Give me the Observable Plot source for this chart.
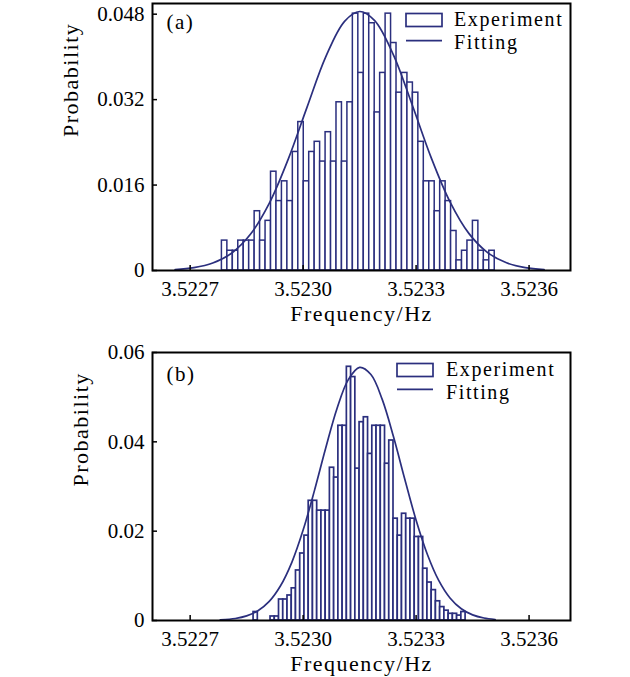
<!DOCTYPE html>
<html><head><meta charset="utf-8">
<script src="https://cdn.jsdelivr.net/npm/d3@7"></script>
<script src="https://cdn.jsdelivr.net/npm/@observablehq/plot@0.6"></script>
<style>body{margin:0;background:#fff} svg{display:block}</style>
</head><body><div id="chart"></div>
<script>
const navy = "#2b2f7e";
const xDomain = [3.5226, 3.52371];
const xTicks = [3.5227, 3.5230, 3.5233, 3.5236];

// Panel (a): histogram bins (50 equal-width bins) and probabilities
const binStartA = 3.5227843, binWidthA = 0.00001449;
const probA = [0.0056,0.0037,0.0037,0.0056,0.0056,0.0056,0.0111,0.0056,0.0093,0.0185,
               0.0130,0.0167,0.0130,0.0222,0.0278,0.0167,0.0222,0.0241,0.0204,0.0259,
               0.0204,0.0315,0.0204,0.0315,0.0481,0.0370,0.0481,0.0463,0.0296,0.0370,
               0.0481,0.0426,0.0333,0.0370,0.0352,0.0333,0.0241,0.0167,0.0167,0.0111,
               0.0167,0.0130,0.0074,0.0019,0.0037,0.0056,0.0093,0.0037,0.0019,0.0037];
const fitXA = [3.52266,3.52271,3.52276,3.52281,3.52286,3.52291,3.52296,3.52301,3.52306,3.52311,3.52315,
               3.52319,3.52324,3.52329,3.52334,3.52339,3.52344,3.52349,3.52354,3.52359,3.52364];
const fitYA = [0.00018,0.00053,0.00139,0.00324,0.00677,0.01256,0.02076,0.0305,0.0400,0.04666,0.0485,
               0.0468,0.04035,0.03094,0.02113,0.01285,0.00695,0.00335,0.00144,0.00055,0.00019];
const yTicksA = [0, 0.016, 0.032, 0.048];

// Panel (b)
const binStartB = 3.5228684, binWidthB = 0.00001126;
const probB = [0.0019,0,0,0,0.0009,0.0009,0.0047,0.0047,0.0056,0.0072,
               0.0112,0.0150,0.0190,0.0268,0.0268,0.0246,0.0246,0.0246,0.0342,0.0320,
               0.0436,0.0436,0.0568,0.0545,0.0340,0.0444,0.0455,0.0373,0.0436,0.0436,
               0.0436,0.0351,0.0403,0.0228,0.0190,0.0239,0.0228,0.0228,0.0187,0.0187,
               0.0116,0.0085,0.0068,0.0043,0.0030,0.0022,0.0015,0.0015,0.0011,0.0019];
const fitXB = [3.52278,3.52282,3.52285,3.52288,3.52291,3.52294,3.52297,3.52300,3.52303,3.52306,3.52309,3.52312,
               3.52315,3.52318,3.52321,3.52324,3.52327,3.52330,3.52333,3.52336,3.52339,3.52342,3.52345,3.52348,3.52351];
const fitYB = [0.00013,0.00045,0.00103,0.00218,0.00427,0.00777,0.01302,0.02024,0.02908,0.03861,0.04746,0.05392,
               0.05666,0.05506,0.0495,0.04113,0.03162,0.02245,0.01478,0.00898,0.00505,0.00263,0.00126,0.00056,0.00023];
const yTicksB = [0, 0.02, 0.04, 0.06];

const FONT = "'Liberation Serif', 'DejaVu Serif', serif";

function panel(o) {
  const bars = o.probs.map((p, i) => ({x1: o.start + i * o.width, x2: o.start + (i + 1) * o.width, p}));
  const fit = o.fitX.map((x, i) => ({x, y: o.fitY[i]}));
  const mL = 152, mR = 60;
  const fw = 630 - mL - mR, fh = o.height - o.marginTop - o.marginBottom;
  const svg = Plot.plot({
    width: 630, height: o.height,
    marginLeft: mL, marginRight: mR, marginTop: o.marginTop, marginBottom: o.marginBottom,
    style: {fontFamily: FONT, background: "white", color: "black"},
    x: {domain: xDomain},
    y: {domain: o.yDomain},
    marks: [
      Plot.rectY(bars, {x1: "x1", x2: "x2", y: "p", fill: "white", stroke: navy, strokeWidth: o.barStroke}),
      Plot.line(fit, {x: "x", y: "y", stroke: navy, strokeWidth: 1.7, curve: "catmull-rom"}),
      Plot.tickX(xTicks, {x: d => d, stroke: "black", strokeWidth: 1.5, insetTop: fh - 5}),
      Plot.tickY(o.yTicks, {y: d => d, stroke: "black", strokeWidth: 1.5, insetRight: fw - 5}),
      Plot.axisX({ticks: xTicks, tickSize: 0, tickPadding: o.xPad, fontSize: 21, tickFormat: d => d.toFixed(4), label: null}),
      Plot.axisY({ticks: o.yTicks, tickSize: 0, tickPadding: 8, fontSize: 21, tickFormat: o.yFmt, label: null}),
      Plot.frame({stroke: "black", strokeWidth: 2}),
      Plot.text(["Frequency/Hz"], {frameAnchor: "bottom", lineAnchor: "middle", dy: 43, fontSize: 22, fill: "black"}),
      Plot.text(["Probability"], {frameAnchor: "left", lineAnchor: "middle", dx: o.ylabDx, rotate: -90, fontSize: 22, fill: "black"}),
      Plot.text([o.tag], {frameAnchor: "top-left", lineAnchor: "middle", dx: 14, dy: o.tagDy, textAnchor: "start", fontSize: 21, fill: "black"})
    ]
  });
  const s = d3.select(svg);
  s.selectAll('g[aria-label="text"] text').attr("letter-spacing", "1.5px");
  // legend
  const L = o.legend;
  s.append("rect").attr("x", L.x).attr("y", L.rectY).attr("width", 36).attr("height", 13)
    .attr("fill", "white").attr("stroke", navy).attr("stroke-width", 1.7);
  s.append("line").attr("x1", L.x).attr("x2", L.x + 36).attr("y1", L.lineY).attr("y2", L.lineY)
    .attr("stroke", navy).attr("stroke-width", 1.8);
  s.append("text").attr("x", L.tx).attr("y", L.t1).text("Experiment").attr("text-anchor", "start")
    .attr("font-family", FONT).attr("font-size", 20).attr("letter-spacing", "1.6px").attr("fill", "black");
  s.append("text").attr("x", L.tx).attr("y", L.t2).text("Fitting").attr("text-anchor", "start")
    .attr("font-family", FONT).attr("font-size", 20).attr("letter-spacing", "1.6px").attr("fill", "black");
  return svg;
}

const root = document.getElementById("chart");
root.appendChild(panel({
  probs: probA, start: binStartA, width: binWidthA, fitX: fitXA, fitY: fitYA, barStroke: 1.5,
  yDomain: [0, 0.05], yTicks: yTicksA, yFmt: d => d === 0 ? "0" : d.toFixed(3),
  height: 340, marginTop: 3, marginBottom: 70, xPad: 11, ylabDx: -82, tag: "(a)", tagDy: 19,
  legend: {x: 406, rectY: 13.5, lineY: 40.7, tx: 454, t1: 26, t2: 48.5}
}));
root.appendChild(panel({
  probs: probB, start: binStartB, width: binWidthB, fitX: fitXB, fitY: fitYB, barStroke: 1.7,
  yDomain: [0, 0.06], yTicks: yTicksB, yFmt: d => d === 0 ? "0" : d.toFixed(2),
  height: 337, marginTop: 12, marginBottom: 57, xPad: 11, ylabDx: -72, tag: "(b)", tagDy: 22,
  legend: {x: 397, rectY: 23.5, lineY: 49.3, tx: 446, t1: 36, t2: 58.5}
}));
</script>
</body></html>
